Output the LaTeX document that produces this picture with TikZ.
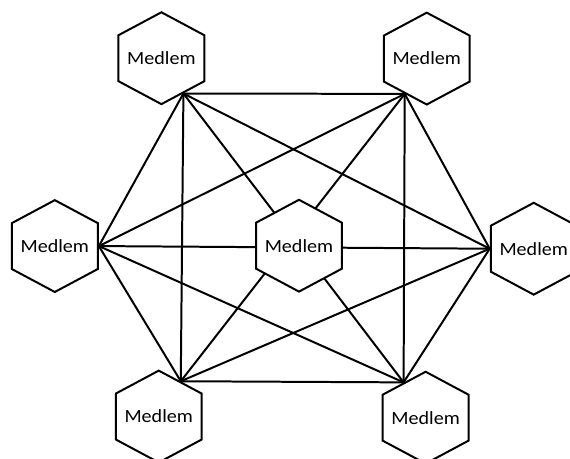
\documentclass[tikz,border=0pt]{standalone}
\usepackage{fontspec}
\setmainfont{Carlito}
\usetikzlibrary{shapes.geometric}

\begin{document}
\begin{tikzpicture}[
    member/.style={regular polygon, regular polygon sides=6, shape border rotate=30,
        draw, line width=1.5pt, minimum size=2.43cm, inner sep=-4pt, xscale=1.08,
        fill=white, font=\fontsize{14}{17}\selectfont},
    link/.style={line width=1.5pt}
]
    \useasboundingbox (0,0) rectangle (15.08,12.14);
    \clip (0,0) rectangle (15.08,12.14);

    % outer ring of members
    \node[member] (tl) at (4.27,10.60) {Medlem};
    \node[member] (tr) at (11.29,10.59) {Medlem};
    \node[member] (l)  at (1.45,5.63)  {Medlem};
    \node[member] (r)  at (14.12,5.56) {Medlem};
    \node[member] (bl) at (4.20,1.12)  {Medlem};
    \node[member] (br) at (11.26,1.09) {Medlem};

    % each member meets the others at one side of its hexagon
    \foreach \n/\a in {tl/-60, tr/-120, l/0, r/180, bl/60, br/120}
        \coordinate (\n-hub) at (\n.\a);

    \foreach \u/\v in {tl/tr, tl/l, tl/r, tl/bl, tl/br,
                       tr/l, tr/r, tr/bl, tr/br,
                       l/r, l/bl, l/br,
                       r/bl, r/br,
                       bl/br}
        \draw[link] (\u-hub) -- (\v-hub);

    % middle member sits on top of the crossing lines
    \node[member] (c) at (7.91,5.64) {Medlem};
\end{tikzpicture}
\end{document}
